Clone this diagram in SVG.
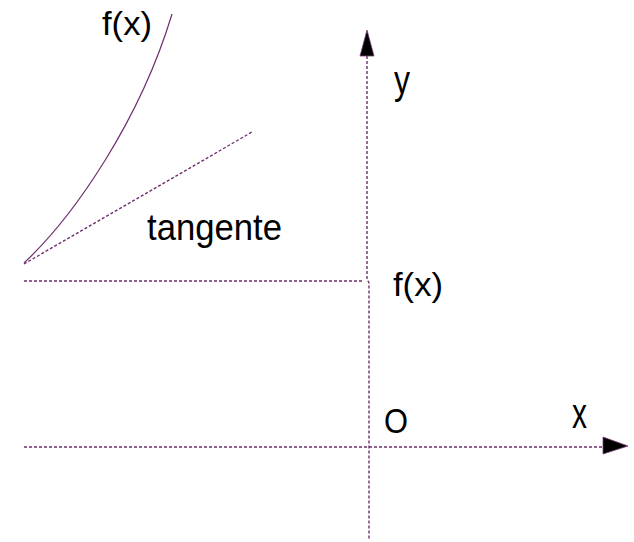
<svg xmlns="http://www.w3.org/2000/svg" width="634" height="542" viewBox="0 0 634 542">
<style>
.dot{fill:none;stroke:#6e2f6e;stroke-width:1.4;stroke-dasharray:3 2}
.curve{fill:none;stroke:#6e2f6e;stroke-width:1.2}
.head{fill:#000;stroke:#7a3d7a;stroke-width:0.8}
.lbl{font-family:"Liberation Sans",Arial,sans-serif;fill:#000}
</style>
<rect width="634" height="542" fill="#fff"/>
<g id="axes">
<polyline class="dot" points="367,56 367,279 369,283 369,540"/>
<polygon class="head" points="367,30 374,56 360,56"/>
<line class="dot" x1="24" y1="447" x2="603" y2="447"/>
<polygon class="head" points="628,446 603,437 603,454"/>
<line class="dot" x1="24" y1="281" x2="364" y2="281"/>
</g>
<g id="function">
<path class="curve" d="M24,263 C75,215 140,120 172,14"/>
<line class="dot" x1="24" y1="264" x2="252" y2="132"/>
</g>
<g id="labels">
<text class="lbl" x="102" y="35" font-size="34" textLength="50" lengthAdjust="spacingAndGlyphs">f(x)</text>
<text class="lbl" x="147" y="240" font-size="37" textLength="135" lengthAdjust="spacingAndGlyphs">tangente</text>
<text class="lbl" x="393" y="296" font-size="34" textLength="50" lengthAdjust="spacingAndGlyphs">f(x)</text>
<text class="lbl" x="394" y="94" font-size="40" textLength="16" lengthAdjust="spacingAndGlyphs">y</text>
<text class="lbl" x="384" y="433" font-size="35" textLength="24" lengthAdjust="spacingAndGlyphs">O</text>
<text class="lbl" x="572" y="428" font-size="43" textLength="15" lengthAdjust="spacingAndGlyphs">x</text>
</g>
</svg>
